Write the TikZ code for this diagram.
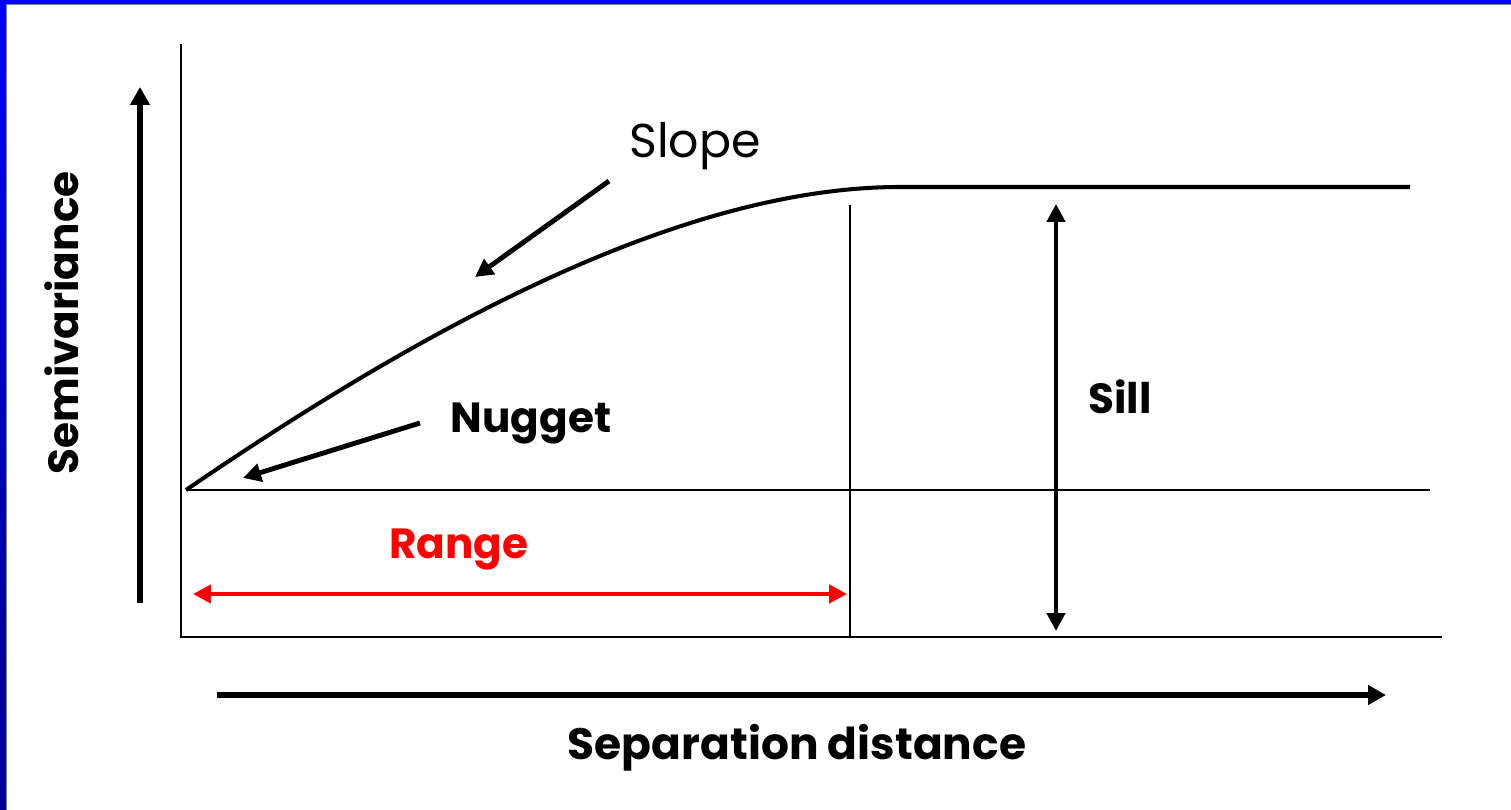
\documentclass[tikz,border=0pt]{standalone}
\usepackage{fontspec}
\setmainfont{Poppins}
\usepackage{tikz}
\usetikzlibrary{arrows.meta, positioning, calc}
\definecolor{framebright}{HTML}{0000FF}
\definecolor{framedark}{HTML}{000090}
\definecolor{rangered}{HTML}{FF0000}
\definecolor{inkblack}{HTML}{000000}
\tikzset{
  thinline/.style={line width=1.3pt, inkblack},
  curveline/.style={line width=2.3pt, inkblack},
  pointer/.style={-{Triangle[length=0.36cm, width=0.36cm]}, line width=2.8pt, inkblack},
  bothptr/.style={{Triangle[length=0.36cm, width=0.36cm]}-{Triangle[length=0.36cm, width=0.36cm]}, line width=2.8pt},
  axisarr/.style={-{Triangle[length=0.36cm, width=0.38cm]}, line width=3.2pt, inkblack},
  lbl/.style={font=\fontsize{24}{28}\selectfont\bfseries, text=inkblack, inner sep=0pt},
}

\begin{document}
\begin{tikzpicture}[x=0.02cm, y=-0.02cm]
  \useasboundingbox (0,0) rectangle (1511,810);
  \fill[white] (0,0) rectangle (1511,810);

  % blue frame
  \shade[top color=framebright, bottom color=framedark] (0,0) rectangle (6,810);
  \fill[framebright] (0,0) rectangle (1511,4);
  \draw[gray, line width=0.4pt] (6,4.5) -- (1511,4.5);
  \draw[gray, line width=0.4pt] (6.5,4) -- (6.5,810);

  % frame of the plot
  \draw[thinline] (181,44) -- (181,637) -- (1442,637);
  \draw[thinline] (186,490) -- (1430,490);
  \draw[thinline] (850,205) -- (850,636);

  % semivariogram curve
  \draw[curveline] (186,490) .. controls (420,330) and (680,187) .. (900,187) -- (1410,187);

  % labels
  \node[lbl, font=\fontsize{27}{32}\selectfont] (slopelbl) at (695,146) {Slope};
  \node[lbl] (nuggetlbl) at (531,423) {Nugget};
  \node[lbl] (silllbl) at (1120,397) {Sill};
  \node[lbl, text=rangered] (rangelbl) at (459,549) {Range};
  \node[lbl, rotate=90] (ylbl) at (62,323) {Semivariance};
  \node[lbl, font=\fontsize{25}{30}\selectfont\bfseries] (xlbl) at (797,748) {Separation distance};

  % pointers
  \coordinate (slopetail) at (609,181);
  \coordinate (slopehead) at (475,277);
  \coordinate (nuggettail) at (420,423);
  \coordinate (nuggethead) at (243,478);
  \draw[pointer] (slopetail) -- (slopehead);
  \draw[pointer] (nuggettail) -- (nuggethead);

  % range and sill
  \coordinate (rangeL) at (193,594);
  \coordinate (rangeR) at (847,594);
  \coordinate (sillT) at (1056,204);
  \coordinate (sillB) at (1056,631);
  \draw[bothptr, rangered] (rangeL) -- (rangeR);
  \draw[bothptr, inkblack] (sillT) -- (sillB);

  % axis arrows
  \coordinate (ytail) at (140,603);
  \coordinate (yhead) at (140,87);
  \coordinate (xtail) at (217,695);
  \coordinate (xhead) at (1386,695);
  \draw[axisarr] (ytail) -- (yhead);
  \draw[axisarr] (xtail) -- (xhead);
\end{tikzpicture}
\end{document}
